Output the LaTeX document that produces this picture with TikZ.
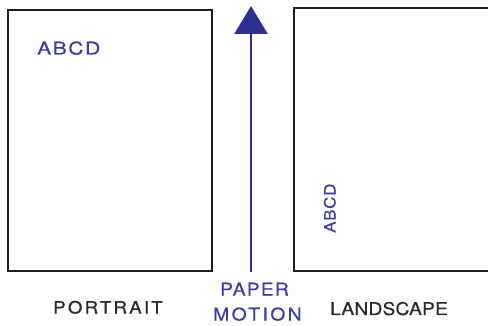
\documentclass[tikz,border=0pt]{standalone}
\usepackage{fontspec}
\setmainfont{TeX Gyre Heros}
\usetikzlibrary{arrows.meta}
\definecolor{inkblue}{HTML}{2E3192}
\definecolor{txtblue}{HTML}{3B3FA0}
\definecolor{boxink}{HTML}{1E1E1E}
\definecolor{txtgray}{HTML}{2A2A2A}
\tikzset{
  sheet/.style={draw=boxink, line width=2pt},
  lbl/.style={inner sep=0pt, anchor=base west, text=txtgray},
  blbl/.style={inner sep=0pt, anchor=base west, text=txtblue},
}
\newcommand{\tk}[3]{\fontsize{#1}{#1}\selectfont\addfontfeatures{LetterSpace=#2,FakeStretch=#3,FakeBold=0.4}}
\begin{document}
\begin{tikzpicture}[x=1pt,y=-1pt]
\useasboundingbox (0,0) rectangle (488,326);
\clip (0,0) rectangle (488,326);
\fill[white] (0,0) rectangle (488,326);
% portrait sheet
\draw[sheet] (8,10.5) rectangle (212,271.5);
% landscape sheet (runs off the right edge)
\draw[sheet] (293.5,8.5) rectangle (500,271.5);
% arrow
\coordinate (tail) at (251,272);
\coordinate (tip) at (251,6);
\draw[inkblue, line width=2.6pt, -{Triangle[width=33pt,length=28pt]}] (tail) -- (tip);
% texts
\node[blbl] (abcd1) at (37,54.5) {\tk{17.5}{9}{1.2}ABCD};
\node[blbl, rotate=90] (abcd2) at (335.5,233) {\tk{15.5}{4}{1.1}ABCD};
\node[lbl] (portrait) at (53,313.5) {\tk{17}{13}{1.1}PORTRAIT};
\node[blbl] (paper) at (220,295.5) {\tk{17.5}{7}{1.1}PAPER};
\node[blbl] (motion) at (213,320.5) {\tk{17.5}{14}{1.1}MOTION};
\node[lbl] (landscape) at (330,315) {\tk{17.5}{1}{1.1}LANDSCAPE};
\end{tikzpicture}
\end{document}
